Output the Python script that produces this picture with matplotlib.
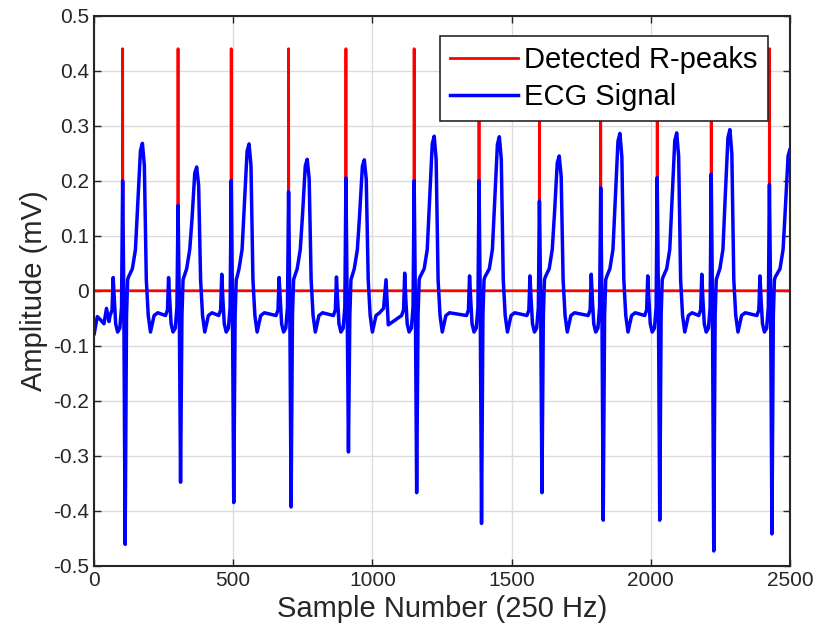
import numpy as np
import matplotlib
matplotlib.use('Agg')
import matplotlib.pyplot as plt

plt.rcParams['font.family'] = ['Liberation Sans', 'DejaVu Sans']
plt.rcParams['axes.unicode_minus'] = False

# detected beats (sample index, mV)
r_idx = [103, 302, 493, 699, 905, 1150, 1383, 1600, 1820, 2023, 2217, 2426]
r_amp = [0.200, 0.155, 0.200, 0.180, 0.205, 0.200, 0.200, 0.163, 0.187, 0.206, 0.212, 0.193]
s_amp = [-0.461, -0.348, -0.385, -0.393, -0.293, -0.367, -0.423, -0.367, -0.417, -0.417, -0.473, -0.442]
t_off = [71, 67, 64, 67, 66, 72, 73, 71, 69, 70, 67, 74]
t_amp = [0.268, 0.225, 0.267, 0.239, 0.238, 0.281, 0.280, 0.245, 0.286, 0.287, 0.293, 0.258]
p_amp = [0.024, 0.024, 0.030, 0.024, 0.025, 0.032, 0.027, 0.027, 0.030, 0.027, 0.030, 0.027]
peak_height = 0.44

# start of the trace and a stray bump in the long gap
lead_x = [1, 12, 24, 36, 45, 54]
lead_y = [-0.078, -0.047, -0.053, -0.060, -0.032, -0.056]
bump_x = [1040, 1049, 1057]
bump_y = [-0.032, 0.020, -0.062]

n_samples = 2500

# build the ECG trace knot by knot
ex, ey = list(lead_x), list(lead_y)
for i, r in enumerate(r_idx):
    R, S, T, P, to = r_amp[i], s_amp[i], t_amp[i], p_amp[i], t_off[i]
    pts = [(-45, -0.045), (-38, -0.035), (-34, P), (-30, -0.015), (-25, -0.060),
           (-18, -0.075), (-10, -0.068), (-4, -0.030), (0, R), (4, 0.0),
           (9, S), (14, -0.045), (18, 0.020), (21, 0.025),
           (to - 36, 0.040), (to - 25, 0.075), (to - 17, 0.155 * T / 0.27),
           (to - 7, 0.95 * T), (to, T), (to + 7, 0.85 * T), (to + 14, 0.020),
           (to + 21, -0.045), (to + 29, -0.075), (to + 42, -0.045), (to + 55, -0.040)]
    for dx, v in pts:
        ex.append(r + dx)
        ey.append(v)
ex += bump_x
ey += bump_y
order = np.argsort(ex)
ecg_x = np.array(ex)[order]
ecg_y = np.array(ey)[order]

samples = np.arange(1, n_samples + 1)
peaks = np.zeros(n_samples)
peaks[np.array(r_idx) - 1] = peak_height

fig = plt.figure(figsize=(8.17, 6.43), dpi=100)
ax = fig.add_axes([0.115, 0.12, 0.852, 0.8556])

ax.plot(samples, peaks, color='#ff0000', lw=2, label='Detected R-peaks')
ax.plot(ecg_x, ecg_y, color='#0000ff', lw=2.5, label='ECG Signal')

ax.set_xlim(0, 2500)
ax.set_ylim(-0.5, 0.5)
ax.set_xticks(np.arange(0, 2501, 500))
yt = np.round(np.arange(-0.5, 0.51, 0.1), 1)
ax.set_yticks(yt)
ax.set_yticklabels(['0' if v == 0 else f'{v:g}' for v in yt])

ax.grid(True, color='#dcdcdc', lw=1)
ax.set_axisbelow(True)
ax.tick_params(direction='in', top=True, right=True, length=5, width=1,
               labelsize=15, colors='#262626')
for sp in ax.spines.values():
    sp.set_color('#262626')
    sp.set_linewidth(1.5)

ax.set_xlabel('Sample Number (250 Hz)', fontsize=21, color='#262626')
ax.set_ylabel('Amplitude (mV)', fontsize=21, color='#262626')

leg = ax.legend(loc='upper right', bbox_to_anchor=(0.968, 0.963), fontsize=21,
                framealpha=1, fancybox=False, edgecolor='#262626',
                handlelength=2.35, borderpad=0.35, labelspacing=0.3,
                handletextpad=0.2, borderaxespad=0)
leg.get_frame().set_linewidth(1.2)

fig.savefig('out.png', dpi=100)
